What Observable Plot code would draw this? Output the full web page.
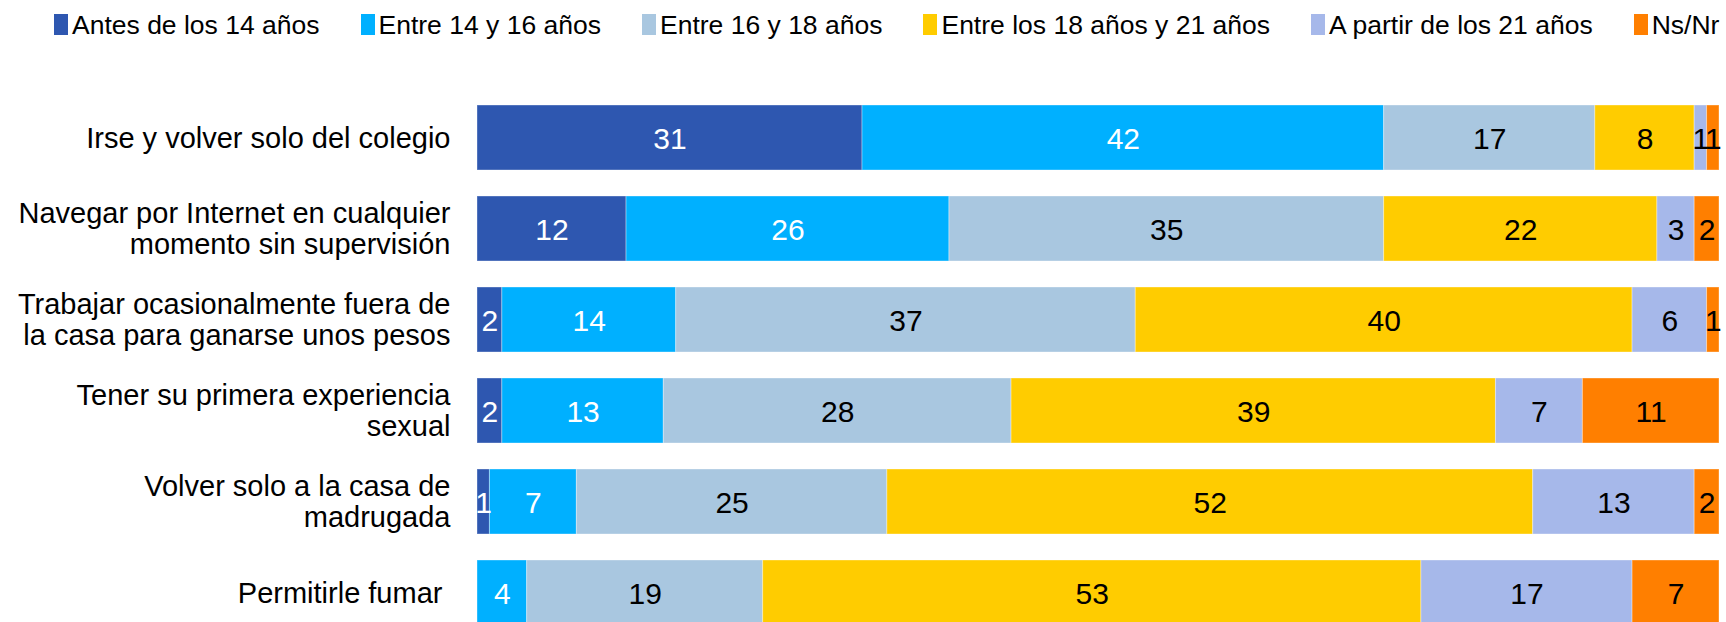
<!DOCTYPE html>
<html>
<head>
<meta charset="utf-8">
<script src="https://cdn.jsdelivr.net/npm/d3@7"></script>
<script src="https://cdn.jsdelivr.net/npm/@observablehq/plot@0.6"></script>
<style>
  html, body { margin: 0; padding: 0; background: #fff; overflow: hidden; }
  body { width: 1726px; height: 622px; font-family: "Liberation Sans", Arial, sans-serif; }
  #legend { box-sizing: border-box; height: 45px; padding: 12px 0 0 54px; display: flex; flex-wrap: nowrap; gap: 41px; white-space: nowrap; }
  .item { display: flex; align-items: flex-start; flex: none; }
  .sw { display: inline-block; width: 14px; height: 21px; margin-top: 2px; margin-right: 4px; flex: none; }
  .lbl { display: inline-block; font-size: 26.5px; line-height: 26px; color: #000; }
  #chart svg { display: block; }
</style>
</head>
<body>
<div id="legend"></div>
<div id="chart"></div>
<script>
// Categories (y axis), top to bottom
const categories = [
  "Irse y volver solo del colegio",
  "Navegar por Internet en cualquier momento sin supervisión",
  "Trabajar ocasionalmente fuera de la casa para ganarse unos pesos",
  "Tener su primera experiencia sexual",
  "Volver solo a la casa de madrugada",
  "Permitirle fumar"
];
const categoryLabels = [
  "Irse y volver solo del colegio",
  "Navegar por Internet en cualquier\nmomento sin supervisión",
  "Trabajar ocasionalmente fuera de\nla casa para ganarse unos pesos",
  "Tener su primera experiencia\nsexual",
  "Volver solo a la casa de\nmadrugada",
  "Permitirle fumar "
];

// Series (stack order, left to right)
const seriesNames = [
  "Antes de los 14 años",
  "Entre 14 y 16 años",
  "Entre 16 y 18 años",
  "Entre los 18 años y 21 años",
  "A partir de los 21 años",
  "Ns/Nr"
];
const seriesColors = ["#2E57B0", "#00B0FF", "#A9C7E0", "#FFCC00", "#A6B8EA", "#FF7F00"];
const seriesTextColors = ["#fff", "#fff", "#000", "#000", "#000", "#000"];

// Values (%) per series, in category order
const antes14     = [31, 12,  2,  2,  1,  0];
const entre14y16  = [42, 26, 14, 13,  7,  4];
const entre16y18  = [17, 35, 37, 28, 25, 19];
const entre18y21  = [ 8, 22, 40, 39, 52, 53];
const desde21     = [ 1,  3,  6,  7, 13, 17];
const nsnr        = [ 1,  2,  1, 11,  2,  7];

const seriesValues = [antes14, entre14y16, entre16y18, entre18y21, desde21, nsnr];

const data = [];
categories.forEach((c, i) => {
  seriesNames.forEach((s, j) => {
    data.push({category: c, series: s, value: seriesValues[j][i], textColor: seriesTextColors[j]});
  });
});
const labelOf = new Map(categories.map((c, i) => [c, categoryLabels[i]]));

// Legend
const legend = document.getElementById("legend");
seriesNames.forEach((s, j) => {
  const item = document.createElement("span");
  item.className = "item";
  const sw = document.createElement("span");
  sw.className = "sw";
  sw.style.background = seriesColors[j];
  const lbl = document.createElement("span");
  lbl.className = "lbl";
  lbl.textContent = s;
  item.appendChild(sw);
  item.appendChild(lbl);
  legend.appendChild(item);
});

const chart = Plot.plot({
  width: 1726,
  height: 609,
  marginTop: 31,
  marginBottom: 0,
  marginLeft: 477,
  marginRight: 7,
  style: {fontFamily: "'Liberation Sans', Arial, sans-serif", background: "#fff"},
  x: {domain: [0, 100], axis: null},
  y: {domain: categories, padding: 0.283, axis: null},
  color: {domain: seriesNames, range: seriesColors},
  marks: [
    Plot.barX(data, Plot.stackX({
      x: "value", y: "category", z: "series", fill: "series", order: null,
      stroke: "#fff", strokeOpacity: 0.35, strokeWidth: 1
    })),
    Plot.text(data.filter(d => d.value > 0), Plot.stackX({
      x: "value", y: "category", z: "series", order: null,
      text: d => String(d.value), fill: "textColor",
      fontSize: 30, textAnchor: "middle", dy: 1
    })),
    Plot.text(categories, {
      y: d => d, frameAnchor: "left", dx: -27, textAnchor: "end",
      text: d => labelOf.get(d), fontSize: 29, lineHeight: 1.07, lineAnchor: "middle", fill: "#000"
    })
  ]
});
document.getElementById("chart").appendChild(chart);
</script>
</body>
</html>
